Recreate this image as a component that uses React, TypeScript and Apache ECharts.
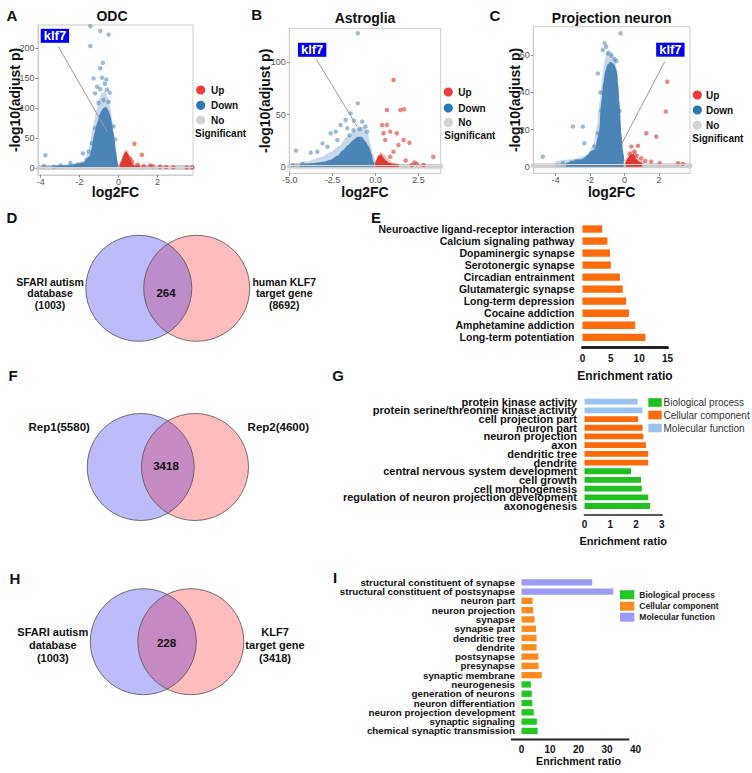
import React, { useEffect, useRef } from "react";
import * as echarts from "echarts";

const FONT = "'Liberation Sans', Arial, Helvetica, sans-serif";

// ---------------- A: ODC volcano ----------------
const odcDownCore = [[-3.3,1.5],[-2.7,3],[-2.2,5],[-1.79,8],[-1.45,19],[-1.37,30],[-1.2,58],[-1.05,76],[-0.94,88],[-0.85,95],[-0.75,99],[-0.65,100],[-0.55,95],[-0.45,86],[-0.29,58],[-0.17,30],[-0.1,10],[-0.04,3]];
const odcDownHalo = [[-3.9,3],[-3.0,5],[-2.2,8],[-1.8,12],[-1.55,25],[-1.45,45],[-1.3,70],[-1.15,95],[-1.0,115],[-0.85,125],[-0.7,128],[-0.55,118],[-0.42,100],[-0.3,75],[-0.2,45],[-0.1,20],[0.0,5]];
const odcDownPoints = [[-1.45,236],[-0.94,228],[-0.51,222],[-1.45,203],[-0.8,175],[-0.94,166],[-1.28,149],[-0.63,147],[-0.94,131],[-1.2,124],[-0.6,130],[-0.77,113],[-1.03,108],[-0.51,110],[-3.76,21],[-1.83,24],[-3.84,3],[-2.99,4],[-2.48,8],[-2.1,5],[-3.33,2],[-1.54,27],[-1.62,13],[-1.2,66],[-0.26,69],[-0.17,47],[-1.37,41],[-0.7,140],[-1.1,135],[-0.85,150],[-0.45,125]];
const odcUpCore = [[0.08,2],[0.18,10],[0.28,20],[0.38,26],[0.48,22],[0.58,12],[0.68,5],[0.85,2.5],[1.1,1.5]];
const odcUpHalo = [[0.0,3],[0.15,16],[0.3,28],[0.45,30],[0.6,20],[0.8,8],[1.1,4],[1.5,2.5]];
const odcUpPoints = [[0.82,40],[1.2,21.7],[1.63,4],[1.75,3],[2.14,2.2],[2.45,1.5],[2.82,1.1],[3.5,0.6],[3.78,0.6],[0.6,15],[0.7,10],[1.0,5],[1.3,3]];
const odcNoSig = [[-4.1,0.6],[3.8,0.6]];
const odcKlf7Label = [-3.27, 220];
const odcKlf7Line = [[-3.09,201.7],[-0.58,60]];
const odcXTicks = [-4,-2,0,2];
const odcYTicks = [0,50,100,150,200];

// ---------------- B: Astroglia volcano ----------------
const astroDownCore = [[-4.42,1.5],[-3.71,2.5],[-3.0,4],[-2.6,6],[-2.19,10],[-1.89,15],[-1.58,20],[-1.28,25],[-1.03,28],[-0.82,28],[-0.62,24],[-0.42,19],[-0.27,12],[-0.17,5],[-0.09,2]];
const astroDownHalo = [[-4.8,3],[-4.0,5],[-3.2,9],[-2.6,14],[-2.1,20],[-1.7,28],[-1.3,34],[-1.0,38],[-0.7,38],[-0.45,32],[-0.3,22],[-0.15,12],[0.0,4]];
const astroDownPoints = [[-1.03,127.8],[-1.03,60.7],[-1.45,51.1],[-1.74,44.7],[-1.26,44.1],[-0.77,43.2],[-2.03,40],[-2.61,32],[-2.32,33.6],[-3.09,22.4],[-3.39,14.4],[-3.77,13.5],[-4.63,15.4],[-4.25,2.6],[-2.8,19.2],[-2.22,25.6],[-1.64,36.8],[-0.58,38.4],[-0.49,33.6],[-1.28,35],[-0.92,36],[-1.53,30],[-4.82,1.5]];
const astroUpCore = [[0.0,2],[0.09,6],[0.19,10],[0.32,11],[0.44,8],[0.59,5],[0.8,3],[1.05,2],[1.35,1.5]];
const astroUpHalo = [[-0.05,3],[0.1,9],[0.3,14],[0.5,12],[0.7,8],[1.0,4],[1.4,2.5]];
const astroUpPoints = [[1.05,83.1],[0.67,54.3],[1.45,54.3],[1.67,55],[0.38,40],[0.67,40],[0.47,32],[0.86,33.6],[1.24,32],[1.64,25.6],[1.98,23],[1.34,20.8],[1.05,14.4],[3.37,9.6],[2.41,2.6],[2.79,1.6],[2.11,1.6],[0.86,9.6],[0.57,25.6],[1.76,6],[2.27,4]];
const astroNoSig = [[-5.0,0.5],[3.8,0.5]];
const astroKlf7Label = [-3.69, 112];
const astroKlf7Line = [[-3.44,102.9],[-1.06,38.3]];
const astroXTicks = [-5,-2.5,0,2.5];
const astroYTicks = [0,50,100];

// ---------------- C: Projection neuron volcano ----------------
const projDownCore = [[-3.4,1.5],[-2.52,3.6],[-1.7,9],[-1.45,18],[-1.3,36],[-1.2,45],[-1.07,52],[-0.95,55],[-0.8,56],[-0.65,55],[-0.5,52],[-0.42,45],[-0.35,36],[-0.23,18],[-0.15,9],[-0.05,3]];
const projDownHalo = [[-4.0,3],[-3.0,4],[-2.2,6],[-1.8,12],[-1.6,22],[-1.45,35],[-1.3,48],[-1.15,58],[-0.95,63],[-0.75,62],[-0.55,58],[-0.4,50],[-0.3,35],[-0.18,18],[-0.05,6]];
const projDownPoints = [[-0.23,71.9],[-1.16,66.5],[-1.07,64.7],[-1.26,62.9],[-0.77,60],[-0.97,61],[-0.58,58],[-0.48,57],[-1.55,50.3],[-2.42,21.6],[-3.0,21.6],[-1.55,18],[-2.33,12.6],[-4.75,5.4],[-3.58,1.8],[-3.1,2.2],[-1.94,7.2],[-1.74,10.8],[-1.4,40],[-1.35,30],[-0.3,30],[-2.8,3],[-2.1,5]];
const projUpCore = [[0.08,1.5],[0.2,4],[0.35,6],[0.5,6.5],[0.65,4],[0.8,2.5],[1.0,1.5]];
const projUpHalo = [[0.0,2.5],[0.2,6],[0.4,9],[0.6,8],[0.8,5],[1.1,2.5]];
const projUpPoints = [[2.48,45.8],[2.39,29.7],[1.26,18],[1.84,16.2],[0.39,10.8],[0.78,11.2],[0.58,8.1],[0.97,4.5],[1.55,2.7],[2.04,1.8],[3.1,1.8],[3.39,1.5],[0.3,7],[0.7,6],[1.2,3]];
const projNoSig = [[-5.3,0.5],[3.8,0.5]];
const projKlf7Label = [2.66, 63.1];
const projKlf7Line = [[2.33,56.6],[-0.15,12.6]];
const projXTicks = [-4,-2,0,2];
const projYTicks = [0,20,40,60];

const volcanoTitles = ["ODC", "Astroglia", "Projection neuron"];
const volcanoLegend = ["Up", "Down", "No"];
const significanceThreshold = 1.3;

// ---------------- E: KEGG enrichment ----------------
const keggTerms = ["Neuroactive ligand-receptor interaction","Calcium signaling pathway","Dopaminergic synapse","Serotonergic synapse","Circadian entrainment","Glutamatergic synapse","Long-term depression","Cocaine addiction","Amphetamine addiction","Long-term potentiation"];
const keggRatio = [3.5, 4.4, 4.85, 5.0, 6.6, 7.1, 7.7, 8.2, 9.3, 11.1];

// ---------------- G: GO enrichment (Rep overlap) ----------------
const goTermsG = ["protein kinase activity","protein serine/threonine kinase activity","cell projection part","neuron part","neuron projection","axon","dendritic tree","dendrite","central nervous system development","cell growth","cell morphogenesis","regulation of neuron projection development","axonogenesis"];
const goRatioG = [2.06, 2.25, 2.08, 2.25, 2.28, 2.38, 2.47, 2.47, 1.80, 2.19, 2.22, 2.47, 2.54];
const goGroupG = ["MF","MF","CC","CC","CC","CC","CC","CC","BP","BP","BP","BP","BP"];

// ---------------- I: GO enrichment (SFARI overlap) ----------------
const goTermsI = ["structural constituent of synapse","structural constituent of postsynapse","neuron part","neuron projection","synapse","synapse part","dendritic tree","dendrite","postsynapse","presynapse","synaptic membrane","neurogenesis","generation of neurons","neuron differentiation","neuron projection development","synaptic signaling","chemical synaptic transmission"];
const goRatioI = [24.8, 32.2, 3.9, 4.1, 4.6, 5.1, 5.3, 5.3, 5.9, 6.0, 7.1, 3.3, 3.6, 3.8, 4.3, 5.4, 5.7];
const goGroupI = ["MF","MF","CC","CC","CC","CC","CC","CC","CC","CC","CC","BP","BP","BP","BP","BP","BP"];
const goGroupNames = ["Biological process", "Cellular component", "Molecular function"];
const goGroupKeys = ["BP", "CC", "MF"];

// ---------------- Venn diagrams ----------------
const vennOverlapCounts = [264, 3418, 228];
const vennLeftSets = ["SFARI autism\ndatabase\n(1003)", "Rep1(5580)", "SFARI autism\ndatabase\n(1003)"];
const vennRightSets = ["human KLF7\ntarget gene\n(8692)", "Rep2(4600)", "KLF7\ntarget gene\n(3418)"];

// ---------------- layout (positions only) ----------------
const vennGeom = [
  { id: "D", cx1: 138.8, cx2: 196.7, cy: 288.3, r: 53, lx: 50, rx: 284.2, ty: 293.3, lh: 11.7, fs: 10.5, nx: 166, ny: 293.3, lens: "#bd8ccb" },
  { id: "F", cx1: 140.7, cx2: 195, cy: 467, r: 53.5, lx: 59.2, rx: 278.3, ty: 427, lh: 13, fs: 11.5, nx: 166, ny: 466, lens: "#c78bc3" },
  { id: "H", cx1: 143.3, cx2: 190.8, cy: 641.7, r: 53, lx: 52.8, rx: 275, ty: 645, lh: 13, fs: 11, nx: 166.5, ny: 642.7, lens: "#c68ac2" },
];

function lensPath(g: any) {
  const a = (g.cx2 - g.cx1) / 2;
  const h = Math.sqrt(g.r * g.r - a * a);
  const mx = (g.cx1 + g.cx2) / 2;
  return `M ${mx} ${g.cy - h} A ${g.r} ${g.r} 0 0 1 ${mx} ${g.cy + h} A ${g.r} ${g.r} 0 0 1 ${mx} ${g.cy - h} Z`;
}
vennGeom.forEach((g) => {
  echarts.graphic.registerShape("lens" + g.id, echarts.graphic.extendPath(lensPath(g), {}) as any);
});

const volcanoLayout = [
  { grid: { left: 38, top: 25, width: 155, height: 150 }, x: [-4.14, 3.83], y: [-12, 238], yGap: 16, xGap: 10.2, title: [112, 15.5], letter: ["A", 12, 15], legend: { dotX: 200.7, textX: 211, ys: [90, 105.3, 120], sigX: 195, sigY: 133.3 } },
  { grid: { left: 289.3, top: 28.3, width: 151.4, height: 145 }, x: [-5.02, 3.8], y: [-6.3, 132.6], yGap: 17.3, xGap: 11.4, title: [365, 18], letter: ["B", 256.7, 14.5], legend: { dotX: 448.3, textX: 458.3, ys: [92, 108, 122.7], sigX: 444.3, sigY: 135.7 } },
  { grid: { left: 533.3, top: 26.7, width: 156.7, height: 146.6 }, x: [-5.3, 3.8], y: [-3.6, 75.5], yGap: 11.3, xGap: 11.4, title: [611.7, 18], letter: ["C", 495, 15], legend: { dotX: 697.3, textX: 706, ys: [95, 110, 125], sigX: 692.3, sigY: 138.3 } },
];

const volcanoData = [
  { down: odcDownCore, downHalo: odcDownHalo, downPts: odcDownPoints, up: odcUpCore, upHalo: odcUpHalo, upPts: odcUpPoints, noSig: odcNoSig, klfLabel: odcKlf7Label, klfLine: odcKlf7Line, xt: odcXTicks, yt: odcYTicks, fmt: (v: number) => String(v) },
  { down: astroDownCore, downHalo: astroDownHalo, downPts: astroDownPoints, up: astroUpCore, upHalo: astroUpHalo, upPts: astroUpPoints, noSig: astroNoSig, klfLabel: astroKlf7Label, klfLine: astroKlf7Line, xt: astroXTicks, yt: astroYTicks, fmt: (v: number) => v.toFixed(1) },
  { down: projDownCore, downHalo: projDownHalo, downPts: projDownPoints, up: projUpCore, upHalo: projUpHalo, upPts: projUpPoints, noSig: projNoSig, klfLabel: projKlf7Label, klfLine: projKlf7Line, xt: projXTicks, yt: projYTicks, fmt: (v: number) => String(v) },
];

const legendDotColors = ["#f03c3c", "#2a78b6", "#d3d3d3"];

function txt(x: number, y: number, text: string, font: string, align = "center", extra: any = {}) {
  return {
    type: "text",
    x,
    y,
    silent: true,
    style: {
      text,
      font,
      fill: "#111",
      align,
      textAlign: align,
      verticalAlign: "middle",
      textVerticalAlign: "middle",
      ...extra,
    },
  };
}

function buildOption() {
  const grids: any[] = [];
  const xAxes: any[] = [];
  const yAxes: any[] = [];
  const series: any[] = [];
  const graphics: any[] = [];

  // ---- volcanoes ----
  volcanoLayout.forEach((L, i) => {
    const D = volcanoData[i];
    grids.push({ ...L.grid, show: true, borderColor: "#cdcdcd", borderWidth: 1, backgroundColor: "transparent", outerBoundsMode: "none", containLabel: false });
    xAxes.push({
      gridIndex: i, type: "value", min: L.x[0], max: L.x[1],
      splitLine: { show: false },
      axisLine: { show: true, onZero: false, lineStyle: { color: "#cdcdcd" } },
      axisTick: { show: true, length: 2.5, lineStyle: { color: "#8a8a8a" }, customValues: D.xt },
      axisLabel: { customValues: D.xt, fontSize: 9, color: "#555", margin: 2.5, fontFamily: FONT, formatter: D.fmt },
      name: "log2FC", nameLocation: "middle", nameGap: L.xGap, nameMoveOverlap: false,
      nameTextStyle: { fontSize: 14, fontWeight: "bold", color: "#111", fontFamily: FONT },
    });
    yAxes.push({
      gridIndex: i, type: "value", min: L.y[0], max: L.y[1],
      splitLine: { show: false },
      axisLine: { show: true, onZero: false, lineStyle: { color: "#cdcdcd" } },
      axisTick: { show: true, length: 2.5, lineStyle: { color: "#8a8a8a" }, customValues: D.yt },
      axisLabel: { customValues: D.yt, fontSize: 9, color: "#555", margin: 3.5, fontFamily: FONT },
      name: "-log10(adjust p)", nameLocation: "middle", nameGap: L.yGap, nameMoveOverlap: false,
      nameTextStyle: { fontSize: 14, fontWeight: "bold", color: "#111", fontFamily: FONT },
    });
    const ax = { xAxisIndex: i, yAxisIndex: i };
    series.push(
      {
        type: "line", ...ax, data: D.noSig, symbol: "none", silent: true, z: 1,
        lineStyle: { color: "#cfcfcf", width: 5, cap: "round" },
        markLine: { silent: true, symbol: "none", label: { show: false }, lineStyle: { color: "#d8d8d8", width: 1, type: "solid" }, data: [{ yAxis: significanceThreshold }] },
      },
      {
        type: "line", ...ax, data: D.downHalo, symbol: "none", smooth: 0.3, smoothMonotone: "x", silent: true, z: 2,
        lineStyle: { width: 0, color: "rgba(0,0,0,0)" }, areaStyle: { color: "rgba(95,145,190,0.35)", opacity: 1 },
      },
      {
        type: "line", ...ax, data: D.upHalo, symbol: "none", smooth: 0.3, smoothMonotone: "x", silent: true, z: 2,
        lineStyle: { width: 0, color: "rgba(0,0,0,0)" }, areaStyle: { color: "rgba(225,70,60,0.35)", opacity: 1 },
      },
      {
        type: "line", ...ax, data: D.down, symbol: "none", smooth: 0.3, smoothMonotone: "x", silent: true, z: 2,
        lineStyle: { color: "#4b84b6", width: 1.5 }, areaStyle: { color: "#4b84b6", opacity: 1 },
      },
      {
        type: "line", ...ax, data: D.up, symbol: "none", smooth: 0.3, smoothMonotone: "x", silent: true, z: 2,
        lineStyle: { color: "#dc3a32", width: 1.5 }, areaStyle: { color: "#dc3a32", opacity: 1 },
      },
      { type: "scatter", ...ax, data: D.downPts, symbolSize: 4.5, silent: true, z: 3, itemStyle: { color: "rgba(75,132,182,0.55)", opacity: 1 } },
      { type: "scatter", ...ax, data: D.upPts, symbolSize: 4.5, silent: true, z: 3, itemStyle: { color: "rgba(222,55,48,0.6)", opacity: 1 } },
      { type: "line", ...ax, data: D.klfLine, symbol: "none", silent: true, z: 4, lineStyle: { color: "#9a9a9a", width: 1 } },
      {
        type: "scatter", ...ax, data: [D.klfLabel], symbolSize: 1, silent: true, z: 5,
        itemStyle: { color: "rgba(0,0,0,0)", opacity: 1 },
        label: { show: true, opacity: 1, formatter: "klf7", position: "inside", color: "#ffffff", fontWeight: "bold", fontSize: 13, fontFamily: FONT, backgroundColor: "#0000f0", padding: [1, 3, 0, 3], lineHeight: 13 },
      }
    );
    graphics.push(txt(L.title[0], L.title[1], volcanoTitles[i], `bold 14px ${FONT}`));
    graphics.push(txt(L.letter[1] as number, L.letter[2] as number, L.letter[0] as string, `bold 15px ${FONT}`));
    L.legend.ys.forEach((yy, k) => {
      graphics.push({ type: "circle", silent: true, shape: { cx: L.legend.dotX, cy: yy, r: 4.6 }, style: { fill: legendDotColors[k] } });
      graphics.push(txt(L.legend.textX, yy, volcanoLegend[k], `bold 10px ${FONT}`, "left"));
    });
    graphics.push(txt(L.legend.sigX, L.legend.sigY, "Significant", `bold 10px ${FONT}`, "left"));
  });

  // ---- bar charts ----
  const barDefs = [
    { terms: keggTerms, ratio: keggRatio, groups: keggTerms.map(() => "CC"), colors: { CC: "#ff6a0a" }, grid: { left: 582.5, top: 223, width: 85, height: 120.3 }, max: 15, interval: 5, offset: 4, line: { show: true, width: 3 }, tick: { fs: 10, margin: 6 }, name: { fs: 12, gap: 23 }, cat: { fs: 10.5, margin: 8 }, barWidth: 7.3 },
    { terms: goTermsG, ratio: goRatioG, groups: goGroupG, colors: { BP: "#20c020", CC: "#ff6a0a", MF: "#9cc3f0" }, grid: { left: 584.5, top: 397.35, width: 77.4, height: 113 }, max: 3, interval: 1, offset: 4.6, line: { show: true, width: 1.7 }, tick: { fs: 10, margin: 4.5 }, name: { fs: 11, gap: 21 }, cat: { fs: 11, margin: 7.5 }, barWidth: 5.8 },
    { terms: goTermsI, ratio: goRatioI, groups: goGroupI, colors: { BP: "#22c822", CC: "#ff8a1e", MF: "#9c9cf6" }, grid: { left: 521.5, top: 577.65, width: 114, height: 157.9 }, max: 40, interval: 10, offset: 4, line: { show: false, width: 2 }, tick: { fs: 10, margin: 4.5 }, name: { fs: 10.7, gap: 15.5 }, cat: { fs: 9.8, margin: 6.5 }, barWidth: 6.3 },
  ];
  barDefs.forEach((B, j) => {
    const gi = 3 + j;
    grids.push({ ...B.grid, outerBoundsMode: "none", containLabel: false });
    xAxes.push({
      gridIndex: gi, type: "value", min: 0, max: B.max, interval: B.interval, offset: B.offset,
      axisLine: { show: B.line.show, onZero: false, lineStyle: { color: "#222", width: B.line.width } },
      axisTick: { show: false }, splitLine: { show: false },
      axisLabel: { fontSize: B.tick.fs, fontWeight: "bold", color: "#111", margin: B.tick.margin, fontFamily: FONT },
      name: "Enrichment ratio", nameLocation: "middle", nameGap: B.name.gap, nameMoveOverlap: false,
      nameTextStyle: { fontSize: B.name.fs, fontWeight: "bold", color: "#111", fontFamily: FONT },
    });
    yAxes.push({
      gridIndex: gi, type: "category", data: B.terms, inverse: true,
      axisLine: { show: false }, axisTick: { show: false }, splitLine: { show: false },
      axisLabel: { interval: 0, fontSize: B.cat.fs, fontWeight: "bold", color: "#111", margin: B.cat.margin, fontFamily: FONT },
    });
    Object.keys(B.colors).forEach((g) => {
      series.push({
        type: "bar", xAxisIndex: gi, yAxisIndex: gi, stack: "s" + gi, barWidth: B.barWidth, silent: true, z: 2,
        name: goGroupNames[goGroupKeys.indexOf(g)],
        data: B.ratio.map((v, k) => (B.groups[k] === g ? v : "-")),
        itemStyle: { color: (B.colors as any)[g] },
      });
    });
  });

  graphics.push(txt(12, 217, "D", `bold 15px ${FONT}`));
  graphics.push(txt(376, 217, "E", `bold 15px ${FONT}`));
  graphics.push(txt(13, 375, "F", `bold 15px ${FONT}`));
  graphics.push(txt(338, 375, "G", `bold 15px ${FONT}`));
  graphics.push(txt(15, 578, "H", `bold 15px ${FONT}`));
  graphics.push(txt(335, 577, "I", `bold 15px ${FONT}`));

  graphics.push({ type: "line", silent: true, shape: { x1: 511, y1: 739.4, x2: 629.3, y2: 739.4 }, style: { stroke: "#222", lineWidth: 2 } });

  const gLegendYs = [402.5, 415, 428];
  const gLegendColors = ["#20c020", "#ff6a0a", "#9cc3f0"];
  gLegendYs.forEach((yy, k) => {
    graphics.push({ type: "rect", silent: true, shape: { x: 648.3, y: yy - 4.3, width: 13.4, height: 8.6 }, style: { fill: gLegendColors[k] } });
    graphics.push(txt(663.5, yy, goGroupNames[k], `10px ${FONT}`, "left", { fill: "#333" }));
  });
  const iLegendYs = [594.7, 606.2, 617.2];
  const iLegendColors = ["#22c822", "#ff8a1e", "#9c9cf6"];
  iLegendYs.forEach((yy, k) => {
    graphics.push({ type: "rect", silent: true, shape: { x: 620, y: yy - 4.5, width: 14.3, height: 9 }, style: { fill: iLegendColors[k] } });
    graphics.push(txt(639.3, yy, goGroupNames[k], `bold 8.5px ${FONT}`, "left", { fill: "#222" }));
  });

  vennGeom.forEach((g, k) => {
    graphics.push({ type: "circle", silent: true, shape: { cx: g.cx1, cy: g.cy, r: g.r }, style: { fill: "#bcbcfa", stroke: "none" } });
    graphics.push({ type: "circle", silent: true, shape: { cx: g.cx2, cy: g.cy, r: g.r }, style: { fill: "#ffbcbc", stroke: "none" } });
    graphics.push({ type: "lens" + g.id, silent: true, x: 0, y: 0, style: { fill: g.lens, stroke: "none" } });
    graphics.push({ type: "circle", silent: true, shape: { cx: g.cx1, cy: g.cy, r: g.r }, style: { fill: "none", stroke: "#505050", lineWidth: 0.8 } });
    graphics.push({ type: "circle", silent: true, shape: { cx: g.cx2, cy: g.cy, r: g.r }, style: { fill: "none", stroke: "#505050", lineWidth: 0.8 } });
    const f = `bold ${g.fs}px ${FONT}`;
    graphics.push(txt(g.lx, g.ty, vennLeftSets[k], f, "center", { lineHeight: g.lh }));
    graphics.push(txt(g.rx, g.ty, vennRightSets[k], f, "center", { lineHeight: g.lh }));
    graphics.push(txt(g.nx, g.ny, String(vennOverlapCounts[k]), `bold 11.5px ${FONT}`));
  });

  return {
    animation: false,
    backgroundColor: "#ffffff",
    textStyle: { fontFamily: FONT },
    grid: grids,
    xAxis: xAxes,
    yAxis: yAxes,
    series,
    graphic: { elements: graphics },
  };
}

export default function App() {
  const ref = useRef<HTMLDivElement>(null);
  useEffect(() => {
    if (!ref.current) return;
    const chart = echarts.init(ref.current, null, { renderer: "svg" });
    chart.setOption(buildOption() as any);
    return () => chart.dispose();
  }, []);
  return (
    <div
      ref={ref}
      style={{ position: "fixed", left: 0, top: 0, width: 752, height: 773, background: "#fff" }}
    />
  );
}
